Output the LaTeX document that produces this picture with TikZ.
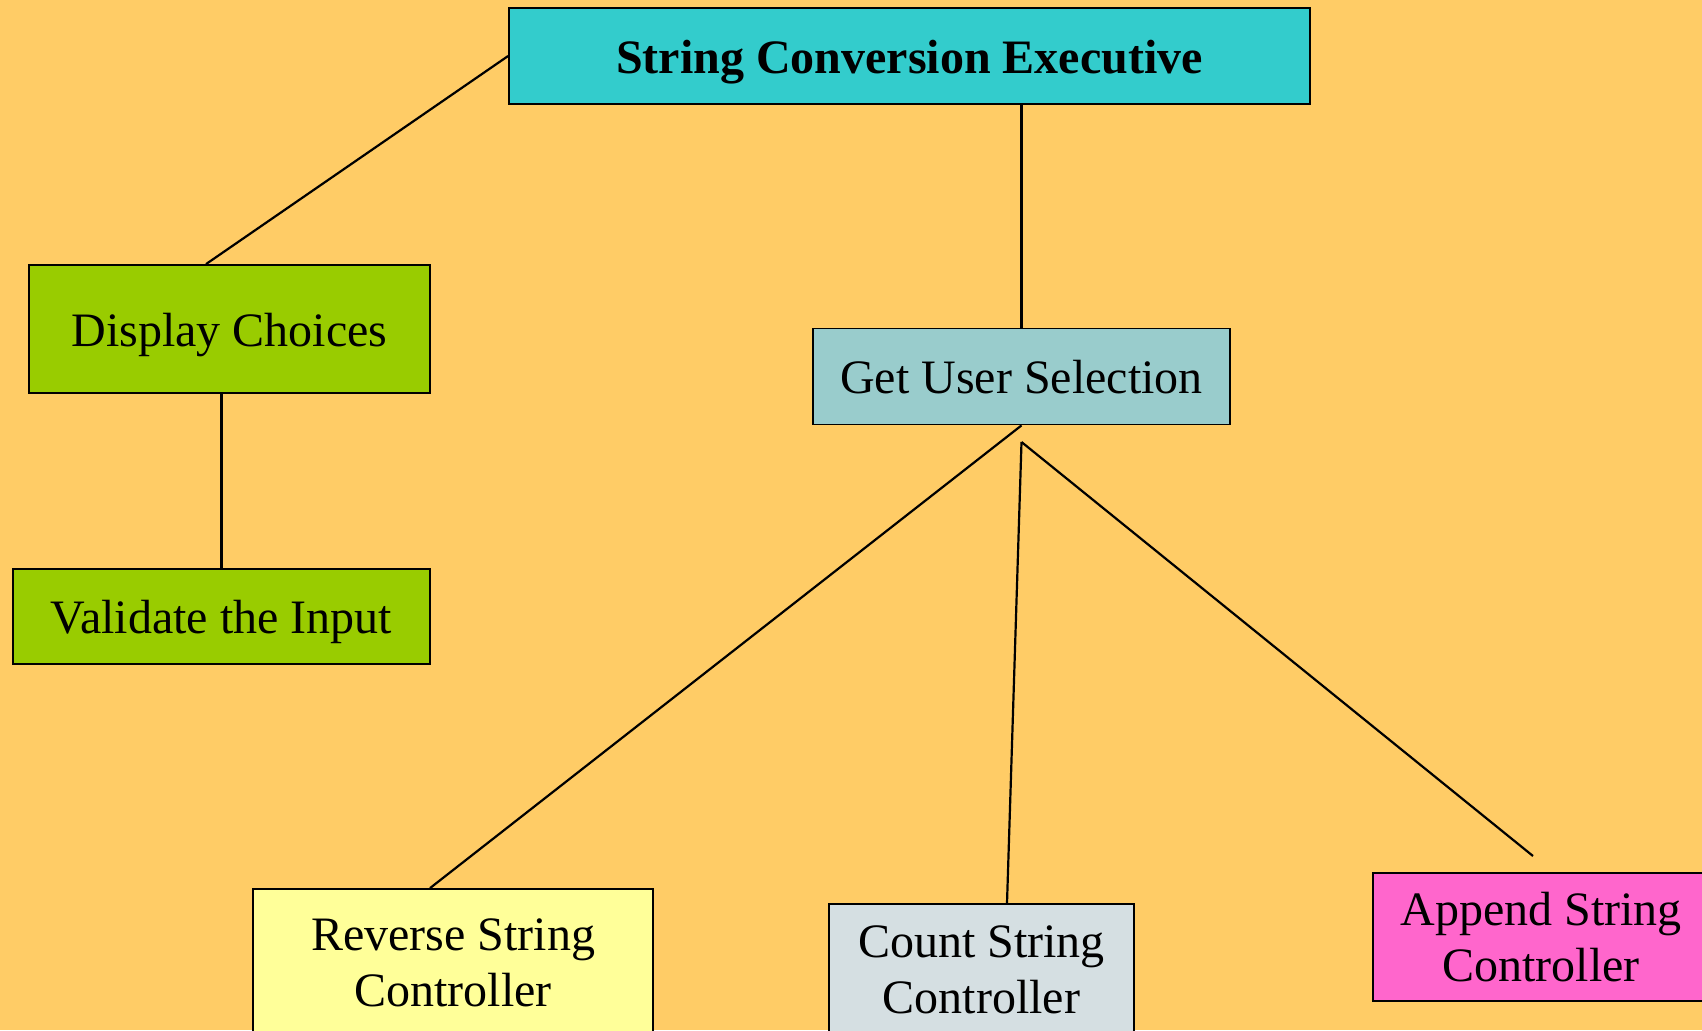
\documentclass[tikz,border=0pt]{standalone}
\usepackage{fontspec}
\setmainfont{Liberation Serif}
\usepackage{tikz}

\definecolor{bgorange}{HTML}{FFCC66}
\definecolor{execcyan}{HTML}{33CCCC}
\definecolor{stepgreen}{HTML}{99CC00}
\definecolor{selteal}{HTML}{99CCCC}
\definecolor{revyellow}{HTML}{FFFF99}
\definecolor{countgray}{HTML}{D5DFE2}
\definecolor{apppink}{HTML}{FF66CC}

\begin{document}
\begin{tikzpicture}
		[x=0.5pt, y=-0.5pt,
		box/.style={draw, rectangle, line width=0.9pt, inner sep=0pt, align=center, font=\fontsize{24}{28}\selectfont},
		oneline/.style={text height=20.5pt, text depth=3.5pt},
		link/.style={line width=1.1pt}]

			\useasboundingbox (0,0) rectangle (1702,1030);
			\fill[bgorange] (0,0) rectangle (1702,1030);

			\node[box, oneline, fill=execcyan, minimum width=400.5pt, minimum height=48pt, font=\fontsize{24}{28}\selectfont\bfseries](exec) at (909.5,56) {String Conversion Executive};
			\node[box, oneline, fill=stepgreen, minimum width=200.5pt, minimum height=64pt](disp) at (229.5,329) {Display Choices};
			\node[box, oneline, fill=stepgreen, minimum width=208.5pt, minimum height=47.5pt](valid) at (221.5,616.5) {Validate the Input};
			\node[box, oneline, fill=selteal, minimum width=208.5pt, minimum height=48pt](sel) at (1021.5,376.5) {Get User Selection};
			\node[box, fill=revyellow, minimum width=200pt, minimum height=74pt](rev) at (453,963) {Reverse String\\Controller};
			\node[box, fill=countgray, minimum width=152.5pt, minimum height=66pt](count) at (981.5,970) {Count String\\Controller};
			\node[box, fill=apppink, minimum width=168pt, minimum height=64pt](app) at (1541,937) {Append String\\Controller};

			\coordinate (fork) at (1021.5,442);
			\coordinate (appendend) at (1533,856);

			\draw[link] (exec.west) -- ([xshift=-11.75pt]disp.north);
			\draw[link] (disp.south -| valid.north) -- (valid.north);
			\draw[link] (exec.south -| sel.north) -- (sel.north);
			\draw[link] (sel.south) -- ([xshift=-11.5pt]rev.north);
			\draw[link] (fork) -- ([xshift=12.75pt]count.north);
			\draw[link] (fork) -- (appendend);

\end{tikzpicture}
\end{document}
